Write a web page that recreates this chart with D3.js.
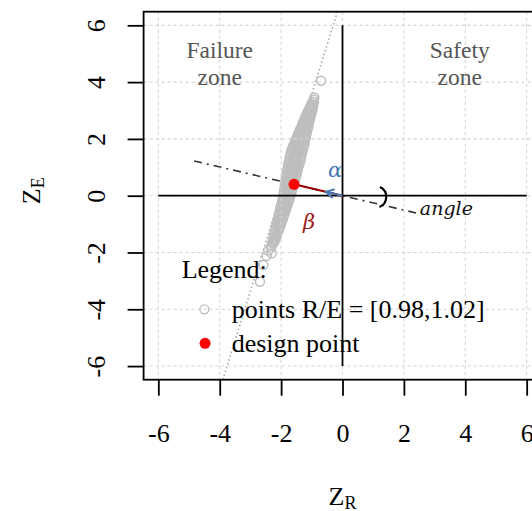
<!DOCTYPE html>
<html><head><meta charset="utf-8">
<script src="https://cdn.jsdelivr.net/npm/d3@7"></script>
<style>body{margin:0;background:#fff}svg{display:block}</style>
</head><body><svg id="c" width="532" height="511"></svg>
<script>
// ---------- data ----------
const xTicks = [-6, -4, -2, 0, 2, 4, 6];
const yTicks = [-6, -4, -2, 0, 2, 4, 6];
const xLabel = ["Z", "R"];
const yLabel = ["Z", "E"];
// sampled points with R/E in [0.98, 1.02] (standard normal space)
const cloudPoints = [
[-0.97,3.31],[-0.93,3.30],[-1.01,3.23],[-0.95,3.21],[-1.05,3.14],[-0.97,3.12],
[-1.09,3.05],[-1.03,3.06],[-0.98,3.04],[-1.13,2.97],[-1.05,2.95],[-1.00,2.96],
[-1.16,2.88],[-1.09,2.89],[-1.02,2.87],[-1.20,2.80],[-1.11,2.78],[-1.04,2.79],
[-1.23,2.71],[-1.14,2.72],[-1.06,2.70],[-1.26,2.62],[-1.17,2.61],[-1.08,2.63],
[-1.30,2.54],[-1.20,2.52],[-1.10,2.53],[-1.33,2.45],[-1.22,2.46],[-1.11,2.44],
[-1.37,2.36],[-1.25,2.35],[-1.13,2.37],[-1.40,2.28],[-1.28,2.29],[-1.16,2.27],
[-1.43,2.20],[-1.31,2.18],[-1.17,2.19],[-1.47,2.11],[-1.33,2.12],[-1.19,2.10],
[-1.50,2.02],[-1.36,2.01],[-1.20,2.03],[-1.54,1.94],[-1.38,1.93],[-1.23,1.92],
[-1.56,1.85],[-1.40,1.86],[-1.24,1.84],[-1.60,1.77],[-1.43,1.75],[-1.26,1.76],
[-1.63,1.68],[-1.46,1.69],[-1.28,1.67],[-1.66,1.59],[-1.48,1.60],[-1.30,1.58],
[-1.68,1.51],[-1.50,1.50],[-1.32,1.52],[-1.70,1.42],[-1.52,1.43],[-1.34,1.41],
[-1.72,1.34],[-1.54,1.32],[-1.36,1.33],[-1.73,1.25],[-1.55,1.26],[-1.37,1.24],
[-1.75,1.16],[-1.57,1.15],[-1.39,1.17],[-1.77,1.08],[-1.59,1.09],[-1.42,1.07],
[-1.78,0.99],[-1.61,0.98],[-1.44,1.00],[-1.80,0.91],[-1.63,0.92],[-1.46,0.90],
[-1.82,0.82],[-1.65,0.81],[-1.48,0.83],[-1.82,0.73],[-1.66,0.74],[-1.50,0.72],
[-1.84,0.65],[-1.68,0.64],[-1.52,0.66],[-1.85,0.56],[-1.70,0.57],[-1.55,0.55],
[-1.86,0.48],[-1.71,0.47],[-1.57,0.49],[-1.87,0.39],[-1.73,0.40],[-1.59,0.38],
[-1.88,0.31],[-1.75,0.30],[-1.61,0.32],[-1.90,0.22],[-1.77,0.23],[-1.64,0.21],
[-1.91,0.13],[-1.78,0.12],[-1.66,0.14],[-1.92,0.05],[-1.80,0.06],[-1.68,0.04],
[-1.94,-0.04],[-1.82,-0.05],[-1.71,-0.03],[-1.95,-0.12],[-1.84,-0.11],[-1.73,-0.13],
[-1.97,-0.21],[-1.87,-0.22],[-1.76,-0.20],[-1.99,-0.30],[-1.89,-0.29],[-1.79,-0.31],
[-2.01,-0.38],[-1.91,-0.39],[-1.81,-0.37],[-2.03,-0.47],[-1.93,-0.46],[-1.84,-0.48],
[-2.04,-0.55],[-1.95,-0.56],[-1.86,-0.54],[-2.06,-0.64],[-1.98,-0.63],[-1.89,-0.65],
[-2.08,-0.73],[-2.00,-0.74],[-1.92,-0.72],[-2.10,-0.81],[-2.02,-0.80],[-1.94,-0.82],
[-2.12,-0.90],[-2.05,-0.91],[-1.97,-0.89],[-2.14,-0.98],[-2.07,-0.97],[-2.00,-0.99],
[-2.16,-1.07],[-2.09,-1.08],[-2.03,-1.06],[-2.18,-1.16],[-2.12,-1.15],[-2.06,-1.17],
[-2.20,-1.24],[-2.09,-1.25],[-2.22,-1.33],[-2.12,-1.32],[-2.23,-1.41],[-2.14,-1.42],
[-2.25,-1.50],[-2.17,-1.49],[-2.27,-1.59],[-2.21,-1.60],[-2.29,-1.67],[-2.24,-1.66],
[-2.32,-1.76],[-2.33,-1.84],
[-2.42,-1.93],[-2.31,-2.03],[-2.47,-2.12],[-2.58,-2.44],[-2.69,-3.03],
[-0.93,3.39],[-0.92,3.46],[-0.70,4.05],
// denser interior of the band
[-1.25,2.50],[-1.15,2.56],[-1.28,2.42],[-1.16,2.48],[-1.31,2.33],[-1.19,2.39],
[-1.34,2.25],[-1.22,2.31],[-1.37,2.16],[-1.24,2.22],[-1.40,2.08],[-1.26,2.14],
[-1.43,1.99],[-1.28,2.05],[-1.46,1.90],[-1.30,1.96],[-1.48,1.82],[-1.32,1.88],
[-1.51,1.73],[-1.35,1.79],[-1.54,1.65],[-1.37,1.71],[-1.57,1.56],[-1.39,1.62],
[-1.59,1.48],[-1.41,1.54],[-1.61,1.39],[-1.43,1.45],[-1.63,1.30],[-1.45,1.36],
[-1.64,1.22],[-1.46,1.28],[-1.66,1.13],[-1.48,1.19],[-1.68,1.05],[-1.50,1.11],
[-1.70,0.96],[-1.52,1.02],[-1.71,0.88],[-1.54,0.94],[-1.73,0.79],[-1.56,0.85],
[-1.74,0.70],[-1.58,0.76],[-1.76,0.62],[-1.60,0.68],[-1.77,0.53],[-1.62,0.59],
[-1.79,0.45],[-1.64,0.51],[-1.80,0.36],[-1.66,0.42],[-1.82,0.28],[-1.68,0.34],
[-1.83,0.19],[-1.70,0.25],[-1.85,0.10],[-1.72,0.16],[-1.86,0.02],[-1.74,0.08],
[-1.88,-0.07],[-1.76,-0.01],[-1.90,-0.15],[-1.78,-0.09],[-1.92,-0.24],[-1.81,-0.18],
[-1.94,-0.33],[-1.84,-0.27],[-1.96,-0.41],[-1.86,-0.35],[-1.98,-0.50],[-1.88,-0.44]
];
const designPoint = [-1.58, 0.40];
const directionExtent = [3.06, -1.56];   // multiples of the design vector
const alphaFraction = 0.34;              // alpha arrow length as fraction of design vector
const limitSlope = 3.47, limitIntercept = 7.05; // Z_E = a*Z_R + b (R/E = 1)
const angleMark = [1.065, -0.045];
const zoneLabels = [
  {lines: ["Failure", "zone"], zR: -4.0, zE: 4.5},
  {lines: ["Safety", "zone"], zR: 3.82, zE: 4.5}
];
const legendTitle = "Legend:";
const legendItems = ["points R/E = [0.98,1.02]", "design point"];
const greekLabels = [
  {text: "\u03B1", zR: -0.24, zE: 0.66, color: "#4a78b5"},
  {text: "\u03B2", zR: -1.09, zE: -1.16, color: "#9b1b1b"}
];
const angleLabel = {text: "angle", zR: 2.52, zE: -0.68};

// ---------- drawing ----------
const svg = d3.select("#c");
const serif = "'Liberation Serif','Times New Roman',serif";
const x = d3.scaleLinear().domain([-6.48, 6.48]).range([143.6, 541.4]);
const y = d3.scaleLinear().domain([-6.48, 6.48]).range([379.7, 11.7]);

svg.append("defs").append("clipPath").attr("id", "clip")
  .append("rect").attr("x", x(-6.48)).attr("y", y(6.48))
  .attr("width", x(6.48) - x(-6.48)).attr("height", y(-6.48) - y(6.48));
const plot = svg.append("g").attr("clip-path", "url(#clip)");

// limit state line
plot.append("line")
  .attr("x1", x((6.48 - limitIntercept) / limitSlope)).attr("y1", y(6.48))
  .attr("x2", x((-6.48 - limitIntercept) / limitSlope)).attr("y2", y(-6.48))
  .attr("stroke", "#aaaaaa").attr("stroke-width", 1.6).attr("stroke-dasharray", "1.5,2.5");

// direction line (dot-dash)
plot.append("line")
  .attr("x1", x(directionExtent[0] * designPoint[0])).attr("y1", y(directionExtent[0] * designPoint[1]))
  .attr("x2", x(directionExtent[1] * designPoint[0])).attr("y2", y(directionExtent[1] * designPoint[1]))
  .attr("stroke", "#333").attr("stroke-width", 1.6).attr("stroke-dasharray", "8,5,2,5");

// cloud
plot.append("g").selectAll("circle").data(cloudPoints).join("circle")
  .attr("cx", d => x(d[0])).attr("cy", d => y(d[1])).attr("r", 4.5)
  .attr("fill", "none").attr("stroke", "#bebebe").attr("stroke-width", 1.5);

// grid
const grid = plot.append("g").attr("stroke", "#d3d3d3").attr("stroke-width", 1.1).attr("stroke-dasharray", "3,3");
xTicks.forEach(t => grid.append("line").attr("x1", x(t)).attr("x2", x(t)).attr("y1", y(6.48)).attr("y2", y(-6.48)));
yTicks.forEach(t => grid.append("line").attr("y1", y(t)).attr("y2", y(t)).attr("x1", x(-6.48)).attr("x2", x(6.48)));

// axes cross lines
plot.append("line").attr("x1", x(-6)).attr("x2", x(6)).attr("y1", y(0)).attr("y2", y(0))
  .attr("stroke", "#000").attr("stroke-width", 1.8);
plot.append("line").attr("x1", x(0)).attr("x2", x(0)).attr("y1", y(6)).attr("y2", y(-6))
  .attr("stroke", "#000").attr("stroke-width", 1.8);

// beta segment
plot.append("line").attr("x1", x(designPoint[0])).attr("y1", y(designPoint[1]))
  .attr("x2", x(0)).attr("y2", y(0)).attr("stroke", "#990000").attr("stroke-width", 2);

// alpha arrow
const tip = [x(alphaFraction * designPoint[0]), y(alphaFraction * designPoint[1])];
const org = [x(0), y(0)];
const th = Math.atan2(tip[1] - org[1], tip[0] - org[0]);
const L = 9, sp = Math.PI / 6;
const ap = d3.path();
ap.moveTo(org[0], org[1]); ap.lineTo(tip[0], tip[1]);
ap.moveTo(tip[0] - L * Math.cos(th - sp), tip[1] - L * Math.sin(th - sp));
ap.lineTo(tip[0], tip[1]);
ap.lineTo(tip[0] - L * Math.cos(th + sp), tip[1] - L * Math.sin(th + sp));
plot.append("path").attr("d", ap.toString()).attr("fill", "none")
  .attr("stroke", "#4a78b5").attr("stroke-width", 2);

// angle mark
const arcP = d3.path();
arcP.arc(x(angleMark[0]), y(angleMark[1]), 11, -64 * Math.PI / 180, 67 * Math.PI / 180);
plot.append("path").attr("d", arcP.toString()).attr("fill", "none").attr("stroke", "#000").attr("stroke-width", 2.2);

// design point
plot.append("circle").attr("cx", x(designPoint[0])).attr("cy", y(designPoint[1])).attr("r", 5.5).attr("fill", "#ff0000");

// frame
svg.append("rect").attr("x", x(-6.48)).attr("y", y(6.48))
  .attr("width", x(6.48) - x(-6.48)).attr("height", y(-6.48) - y(6.48))
  .attr("fill", "none").attr("stroke", "#000").attr("stroke-width", 1.8);

// axes
const ax = svg.append("g").attr("transform", `translate(0,${y(-6.48)})`)
  .call(d3.axisBottom(x).tickValues(xTicks).tickSize(16).tickFormat(d => String(d)));
ax.select(".domain").remove();
ax.selectAll("line").attr("stroke-width", 1.8);
ax.selectAll("text").attr("y", 62).attr("dy", null).attr("font-family", serif).attr("font-size", 26).attr("fill", "#000");

const ay = svg.append("g").attr("transform", `translate(${x(-6.48)},0)`)
  .call(d3.axisLeft(y).tickValues(yTicks).tickSize(16).tickFormat(d => String(d)));
ay.select(".domain").remove();
ay.selectAll("line").attr("stroke-width", 1.8);
ay.selectAll("text").attr("x", null).attr("dy", null).attr("text-anchor", "middle")
  .attr("transform", "translate(-39,0) rotate(-90)")
  .attr("font-family", serif).attr("font-size", 26).attr("fill", "#000");

// axis titles
const xt = svg.append("text").attr("x", x(0)).attr("y", 505).attr("text-anchor", "middle")
  .attr("font-family", serif).attr("font-size", 26);
xt.append("tspan").text(xLabel[0]);
xt.append("tspan").attr("font-size", 18).attr("dy", 4).text(xLabel[1]);

const yt = svg.append("text").attr("transform", `translate(40,${y(0) - 5}) rotate(-90)`).attr("text-anchor", "middle")
  .attr("font-family", serif).attr("font-size", 26);
yt.append("tspan").text(yLabel[0]);
yt.append("tspan").attr("font-size", 18).attr("dy", 4).text(yLabel[1]);

// zone labels
zoneLabels.forEach(z => {
  const t = svg.append("text").attr("text-anchor", "middle").attr("font-family", serif)
    .attr("font-size", 23.5).attr("fill", "#555");
  z.lines.forEach((ln, i) => t.append("tspan").attr("x", x(z.zR)).attr("y", y(z.zE) - 9.6 + i * 26.7).text(ln));
});

// greek labels
greekLabels.forEach(g => svg.append("text").attr("x", x(g.zR)).attr("y", y(g.zE))
  .attr("text-anchor", "middle").attr("font-family", "'DejaVu Serif',serif").attr("font-style", "italic")
  .attr("font-size", 21).attr("fill", g.color).text(g.text));
svg.append("text").attr("x", x(angleLabel.zR)).attr("y", y(angleLabel.zE))
  .attr("font-family", "'DejaVu Serif',serif").attr("font-style", "italic")
  .attr("font-size", 19).attr("fill", "#111").text(angleLabel.text);

// legend
const lx = x(-5.24), ly = y(-2.91);
svg.append("text").attr("x", lx).attr("y", ly).attr("font-family", serif).attr("font-size", 26).text(legendTitle);
const rows = legendItems.map((t, i) => ({t, cy: ly + 31 + i * 34}));
svg.append("circle").attr("cx", lx + 22.7).attr("cy", rows[0].cy).attr("r", 4.5)
  .attr("fill", "none").attr("stroke", "#bebebe").attr("stroke-width", 1.4);
svg.append("circle").attr("cx", lx + 23.4).attr("cy", rows[1].cy).attr("r", 5.5).attr("fill", "#ff0000");
rows.forEach(r => svg.append("text").attr("x", lx + 50).attr("y", r.cy + 9)
  .attr("font-family", serif).attr("font-size", 26).text(r.t));
</script></body></html>
